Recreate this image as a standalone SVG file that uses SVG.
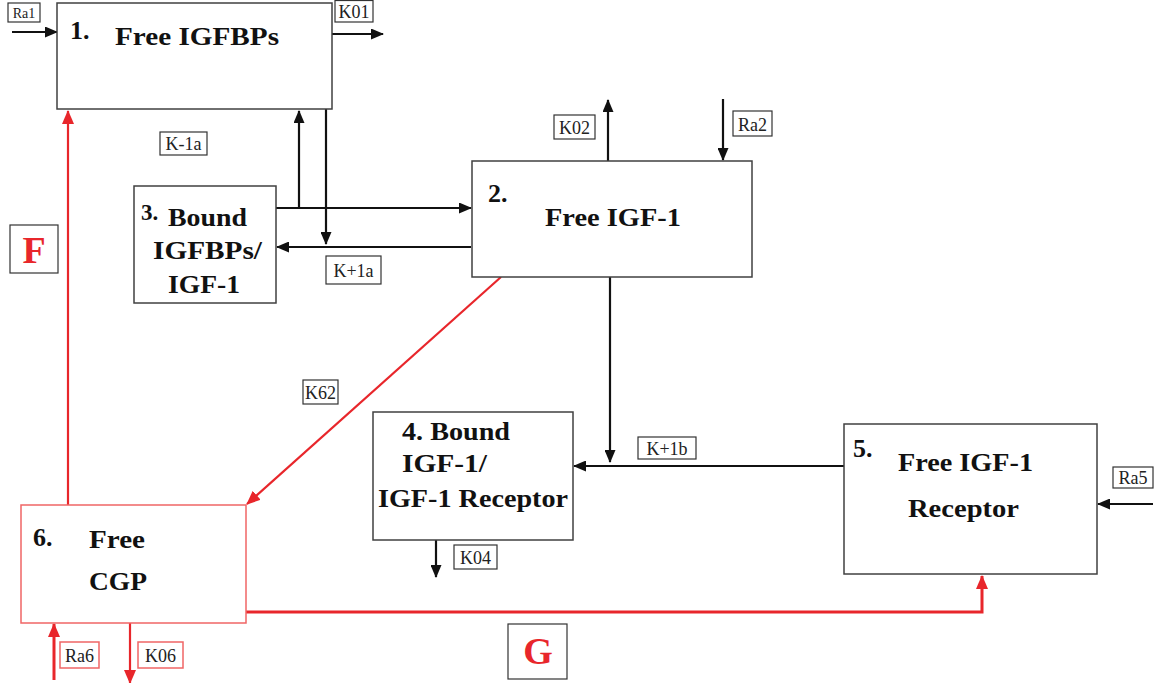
<svg xmlns="http://www.w3.org/2000/svg" width="1157" height="683" viewBox="0 0 1157 683">
<style>
.box{fill:#fff;stroke:#404040;stroke-width:1.5}
.rbox{fill:#fff;stroke:#f06565;stroke-width:1.5}
.t{font-family:"Liberation Serif",serif;font-weight:bold;font-size:26px;fill:#111}
.lb{fill:#fff;stroke:#333;stroke-width:1.2}
.rlb{fill:#fff;stroke:#f06565;stroke-width:1.5}
.lt{font-family:"Liberation Serif",serif;font-size:18px;fill:#222;text-anchor:middle}
.ln{stroke:#111;stroke-width:2.2;fill:none}
.rl{stroke:#e8262b;stroke-width:2.2;fill:none}
.big{font-family:"Liberation Serif",serif;font-weight:bold;font-size:38px;fill:#e8262b;text-anchor:middle}
</style>
<defs>
<marker id="ab" viewBox="0 0 13 11" refX="12" refY="5.5" markerWidth="13" markerHeight="11" markerUnits="userSpaceOnUse" orient="auto"><path d="M0,0L13,5.5L0,11z" fill="#111"/></marker>
<marker id="ar" viewBox="0 0 14 12" refX="13" refY="6" markerWidth="14" markerHeight="12" markerUnits="userSpaceOnUse" orient="auto"><path d="M0,0L14,6L0,12z" fill="#e8262b"/></marker>
</defs>
<rect width="1157" height="683" fill="#fff"/>
<g id="connectors">
<path class="ln" d="M12,32H57" marker-end="url(#ab)"/>
<path class="ln" d="M332,34H383" marker-end="url(#ab)"/>
<path class="rl" d="M68,505V111" marker-end="url(#ar)"/>
<path class="ln" d="M299,208V111" marker-end="url(#ab)"/>
<path class="ln" d="M326,109V244" marker-end="url(#ab)"/>
<path class="ln" d="M276,208H471" marker-end="url(#ab)"/>
<path class="ln" d="M471,247H277" marker-end="url(#ab)"/>
<path class="ln" d="M608,161V100" marker-end="url(#ab)"/>
<path class="ln" d="M723,99V160" marker-end="url(#ab)"/>
<path class="rl" d="M501,277L247,504" marker-end="url(#ar)"/>
<path class="ln" d="M610,277V462" marker-end="url(#ab)"/>
<path class="ln" d="M845,466H574" marker-end="url(#ab)"/>
<path class="ln" d="M436,540V577" marker-end="url(#ab)"/>
<path class="ln" d="M1153,504H1098" marker-end="url(#ab)"/>
<path class="rl" style="stroke-width:3" d="M246,612H982V576" marker-end="url(#ar)"/>
<path class="rl" style="stroke-width:3" d="M54,680V624" marker-end="url(#ar)"/>
<path class="rl" d="M130,623V683" marker-end="url(#ar)"/>
</g>
<g id="labels">
<rect class="lb" x="8" y="3" width="32" height="19"/><text class="lt" x="24" y="18" style="font-size:14px">Ra1</text>
<rect class="lb" x="335" y="0.5" width="38" height="21.5"/><text class="lt" x="354" y="18">K01</text>
<rect class="lb" x="160" y="132" width="47" height="23"/><text class="lt" x="183.5" y="150">K-1a</text>
<rect class="lb" x="326" y="256" width="55" height="28"/><text class="lt" x="353.5" y="277">K+1a</text>
<rect class="lb" x="554" y="115" width="41" height="24"/><text class="lt" x="574.5" y="134">K02</text>
<rect class="lb" x="733" y="111" width="39" height="25"/><text class="lt" x="752.5" y="131">Ra2</text>
<rect class="lb" x="303" y="380" width="35" height="24"/><text class="lt" x="320.5" y="399">K62</text>
<rect class="lb" x="638" y="437" width="58" height="22"/><text class="lt" x="667" y="455">K+1b</text>
<rect class="lb" x="454" y="545" width="43" height="24"/><text class="lt" x="475.5" y="564">K04</text>
<rect class="lb" x="1113" y="467" width="40" height="21"/><text class="lt" x="1133" y="484">Ra5</text>
<rect class="rlb" x="60" y="642" width="39" height="26"/><text class="lt" x="79.5" y="662">Ra6</text>
<rect class="rlb" x="138" y="642" width="45" height="26"/><text class="lt" x="160.5" y="662">K06</text>
<rect class="lb" x="10" y="225" width="48" height="48"/><text class="big" x="34" y="263">F</text>
<rect class="lb" x="508" y="624" width="59" height="55"/><text class="big" x="538" y="664">G</text>
</g>
<g id="node1">
<rect class="box" x="57" y="3" width="275" height="106"/>
<text class="t" x="70" y="39">1.</text>
<text class="t" x="115" y="45" textLength="164" lengthAdjust="spacingAndGlyphs">Free IGFBPs</text>
</g>
<g id="node2">
<rect class="box" x="472" y="161" width="280" height="116"/>
<text class="t" x="488" y="202">2.</text>
<text class="t" x="545" y="226" textLength="136" lengthAdjust="spacingAndGlyphs">Free IGF-1</text>
</g>
<g id="node3">
<rect class="box" x="134" y="186" width="142" height="117"/>
<text class="t" x="141" y="220" style="font-size:23px">3.</text>
<text class="t" x="168" y="226" textLength="79" lengthAdjust="spacingAndGlyphs">Bound</text>
<text class="t" x="153" y="259" textLength="109" lengthAdjust="spacingAndGlyphs">IGFBPs/</text>
<text class="t" x="168" y="293" textLength="72" lengthAdjust="spacingAndGlyphs">IGF-1</text>
</g>
<g id="node4">
<rect class="box" x="373" y="412" width="200" height="128"/>
<text class="t" x="402" y="440" textLength="108" lengthAdjust="spacingAndGlyphs">4. Bound</text>
<text class="t" x="402" y="472" textLength="85" lengthAdjust="spacingAndGlyphs">IGF-1/</text>
<text class="t" x="378" y="507" textLength="190" lengthAdjust="spacingAndGlyphs">IGF-1 Receptor</text>
</g>
<g id="node5">
<rect class="box" x="844" y="424" width="253" height="150"/>
<text class="t" x="853" y="457">5.</text>
<text class="t" x="898" y="471" textLength="135" lengthAdjust="spacingAndGlyphs">Free IGF-1</text>
<text class="t" x="908" y="517" textLength="111" lengthAdjust="spacingAndGlyphs">Receptor</text>
</g>
<g id="node6">
<rect class="rbox" x="21" y="505" width="225" height="118"/>
<text class="t" x="33" y="546">6.</text>
<text class="t" x="89" y="548" textLength="56" lengthAdjust="spacingAndGlyphs">Free</text>
<text class="t" x="89" y="590" textLength="58" lengthAdjust="spacingAndGlyphs">CGP</text>
</g>
</svg>
